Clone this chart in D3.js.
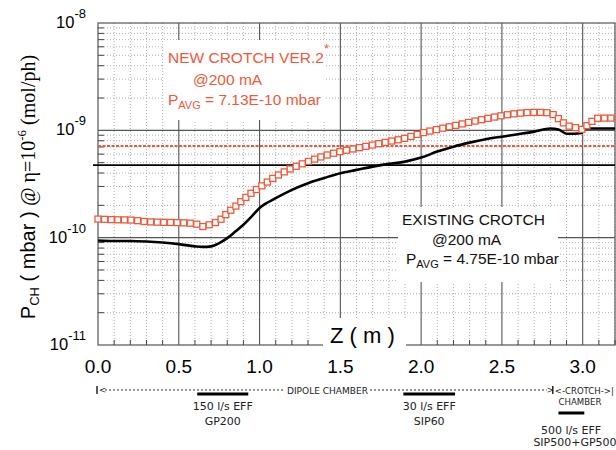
<!DOCTYPE html>
<html>
<head>
<meta charset="utf-8">
<script src="https://cdn.jsdelivr.net/npm/d3@7"></script>
<style>
  body { margin: 0; background: #fff; }
  svg { display: block; }
  .serif { font-family: "Liberation Serif", "DejaVu Serif", serif; }
</style>
</head>
<body>
<div id="chart"></div>
<script>
// values
const zExisting = [0, 0.1, 0.2, 0.3, 0.4, 0.5, 0.6, 0.65, 0.7, 0.75, 0.8, 0.85, 0.9, 0.95, 1.0,
  1.1, 1.2, 1.3, 1.4, 1.5, 1.6, 1.7, 1.8, 1.9, 2.0, 2.1, 2.2, 2.3, 2.4, 2.5, 2.6, 2.7, 2.8,
  2.85, 2.9, 2.95, 2.99, 3.02, 3.2]
const pExisting = [9.4e-11, 9.3e-11, 9.3e-11, 9.2e-11, 9.0e-11, 8.7e-11, 8.3e-11, 8.2e-11, 8.3e-11, 8.9e-11, 9.9e-11,
  1.14e-10, 1.32e-10, 1.57e-10, 1.89e-10, 2.33e-10, 2.79e-10, 3.22e-10, 3.6e-10, 3.99e-10, 4.28e-10,
  4.59e-10, 4.87e-10, 5.11e-10, 5.57e-10, 6.34e-10, 7.05e-10, 7.68e-10, 8.26e-10, 8.73e-10, 9.2e-10,
  9.73e-10, 1.04e-9, 1.02e-9, 9.3e-10, 9.3e-10, 9.45e-10, 1.04e-9, 1.04e-9]

const zNew = [0, 0.1, 0.2, 0.3, 0.4, 0.5, 0.6, 0.65, 0.7, 0.75, 0.8, 0.85, 0.9, 0.95, 1.0,
  1.1, 1.2, 1.3, 1.4, 1.5, 1.6, 1.7, 1.8, 1.9, 2.0, 2.1, 2.2, 2.3, 2.4, 2.5, 2.6, 2.7, 2.75,
  2.8, 2.83, 2.87, 2.9, 2.93, 2.97, 3.0, 3.03, 3.07, 3.1, 3.2]
const pNew = [1.49e-10, 1.47e-10, 1.46e-10, 1.41e-10, 1.39e-10, 1.38e-10, 1.35e-10, 1.27e-10, 1.34e-10, 1.44e-10,
  1.69e-10, 1.95e-10, 2.27e-10, 2.61e-10, 2.94e-10, 3.71e-10, 4.44e-10, 5.11e-10, 5.78e-10, 6.34e-10,
  6.81e-10, 7.31e-10, 7.85e-10, 8.44e-10, 9.4e-10, 1.02e-9, 1.10e-9, 1.19e-9, 1.28e-9, 1.37e-9,
  1.44e-9, 1.47e-9, 1.47e-9, 1.44e-9, 1.36e-9, 1.21e-9, 1.12e-9, 1.08e-9, 1.05e-9, 1.02e-9,
  1.12e-9, 1.25e-9, 1.30e-9, 1.30e-9]

const pAvgExisting = 4.75e-10
const pAvgNew = 7.13e-10

const xTicks = [0, 0.5, 1.0, 1.5, 2.0, 2.5, 3.0]
const yDecades = [-11, -10, -9, -8]

// pumps along the chamber (z from / to)
const pumpStart = [0.614, 1.89, 2.85]
const pumpEnd = [0.93, 2.21, 3.01]
const pumpLine1 = ['150 l/s EFF', '30 l/s EFF', '500 l/s EFF']
const pumpLine2 = ['GP200', 'SIP60', 'SIP500+GP500']
const chamberEdges = [0, 2.815, 3.2]

const red = '#ee5a3c'

const W = 616, H = 450
const margin = {top: 23, right: 1, bottom: 105, left: 98}
const width = W - margin.left - margin.right
const height = H - margin.top - margin.bottom

const svg = d3.select('#chart').append('svg')
  .attr('width', W)
  .attr('height', H)

const x = d3.scaleLinear().domain([0, 3.2]).range([margin.left, margin.left + width])
const y = d3.scaleLog().domain([1e-11, 1e-8]).range([margin.top + height, margin.top])

const x0 = margin.left, x1 = margin.left + width
const y0 = margin.top + height, y1 = margin.top

// minor grid
const minorX = d3.range(0, 3.2001, 0.1).filter(v => Math.abs(v * 2 - Math.round(v * 2)) > 1e-6)
const minorY = []
yDecades.slice(0, 3).forEach(e => {
  for (let k = 2; k <= 9; k++) minorY.push(k * Math.pow(10, e))
})

const grid = svg.append('g')
grid.selectAll('.mx').data(minorX).enter().append('line')
  .attr('x1', d => x(d)).attr('x2', d => x(d))
  .attr('y1', y0).attr('y2', y1)
  .attr('stroke', '#b0b0b0').attr('stroke-width', 1).attr('stroke-dasharray', '1,2')
grid.selectAll('.my').data(minorY).enter().append('line')
  .attr('x1', x0).attr('x2', x1)
  .attr('y1', d => y(d)).attr('y2', d => y(d))
  .attr('stroke', '#b0b0b0').attr('stroke-width', 1).attr('stroke-dasharray', '1,2')

// major grid
grid.selectAll('.Mx').data(xTicks.slice(1)).enter().append('line')
  .attr('x1', d => x(d)).attr('x2', d => x(d))
  .attr('y1', y0).attr('y2', y1)
  .attr('stroke', '#555').attr('stroke-width', 1.1)
grid.selectAll('.My').data(yDecades.slice(1, 3)).enter().append('line')
  .attr('x1', x0).attr('x2', x1)
  .attr('y1', d => y(Math.pow(10, d))).attr('y2', d => y(Math.pow(10, d)))
  .attr('stroke', '#555').attr('stroke-width', 1.1)

// frame
svg.append('rect')
  .attr('x', x0).attr('y', y1).attr('width', width).attr('height', height)
  .attr('fill', 'none').attr('stroke', '#555').attr('stroke-width', 1.2)

// inward ticks
svg.append('g').selectAll('line').data(minorX).enter().append('line')
  .attr('x1', d => x(d)).attr('x2', d => x(d))
  .attr('y1', y0).attr('y2', y0 - 5)
  .attr('stroke', '#444')
svg.append('g').selectAll('line').data(minorY).enter().append('line')
  .attr('x1', x0).attr('x2', x0 + 6)
  .attr('y1', d => y(d)).attr('y2', d => y(d))
  .attr('stroke', '#444')

// white label boxes
svg.append('rect').attr('x', 164).attr('y', 40).attr('width', 162).attr('height', 80).attr('fill', '#fff')
svg.append('rect').attr('x', 398).attr('y', 207).attr('width', 160).attr('height', 75).attr('fill', '#fff')
svg.append('rect').attr('x', 323).attr('y', 318).attr('width', 83).attr('height', 30).attr('fill', '#fff')

// average lines
svg.append('line')
  .attr('x1', x0 - 5).attr('x2', x1)
  .attr('y1', y(pAvgExisting)).attr('y2', y(pAvgExisting))
  .attr('stroke', '#000').attr('stroke-width', 1.8)
svg.append('line')
  .attr('x1', x0).attr('x2', x1)
  .attr('y1', y(pAvgNew)).attr('y2', y(pAvgNew))
  .attr('stroke', red).attr('stroke-width', 2).attr('stroke-dasharray', '3,1.5')

const line = d3.line()
  .x(d => x(d[0]))
  .y(d => y(d[1]))
  .curve(d3.curveMonotoneX)

// existing crotch curve
svg.append('path')
  .datum(d3.zip(zExisting, pExisting))
  .attr('d', line)
  .attr('fill', 'none')
  .attr('stroke', '#000')
  .attr('stroke-width', 2.6)

// new crotch: hollow squares spaced along the curve
const guide = svg.append('path')
  .datum(d3.zip(zNew, pNew))
  .attr('d', line)
  .attr('fill', 'none')
  .attr('stroke', 'none')
const total = guide.node().getTotalLength()
const marks = d3.range(0, total, 6.6).map(l => guide.node().getPointAtLength(l))
svg.append('g').selectAll('rect').data(marks).enter().append('rect')
  .attr('x', d => d.x - 3).attr('y', d => d.y - 3)
  .attr('width', 6).attr('height', 6)
  .attr('fill', '#fff')
  .attr('stroke', red)
  .attr('stroke-width', 1.3)

// tick labels
svg.append('g').selectAll('text').data(xTicks).enter().append('text')
  .attr('x', d => x(d)).attr('y', 373)
  .attr('text-anchor', 'middle')
  .attr('font-family', 'Liberation Sans, Arial, sans-serif')
  .attr('font-size', 19)
  .text(d => d.toFixed(1))

const yl = svg.append('g').selectAll('text').data(yDecades).enter().append('text')
  .attr('x', 86).attr('y', d => y(Math.pow(10, d)) + 5)
  .attr('text-anchor', 'end')
  .attr('font-family', 'Liberation Sans, Arial, sans-serif')
  .attr('font-size', 16.5)
yl.append('tspan').text('10')
yl.append('tspan').attr('dy', -10).attr('font-size', 13).text(d => '-' + Math.abs(d))

// axis titles
svg.append('text')
  .attr('x', 330).attr('y', 343)
  .attr('font-family', 'Liberation Sans, Arial, sans-serif')
  .attr('font-size', 22)
  .text('Z ( m )')

const yt = svg.append('text')
  .attr('transform', 'translate(35,187) rotate(-90)')
  .attr('text-anchor', 'middle')
  .attr('font-size', 20)
  .attr('font-family', 'Liberation Sans, Arial, sans-serif')
yt.append('tspan').text('P')
yt.append('tspan').attr('font-size', 13).attr('dy', 4).text('CH')
yt.append('tspan').attr('dy', -4).text(' ( mbar ) ')
yt.append('tspan').attr('class', 'serif').style('font-style', 'italic').text('@')
yt.append('tspan').attr('class', 'serif').text(' η=10')
yt.append('tspan').attr('class', 'serif').attr('font-size', 13).attr('dy', -9).text('-6')
yt.append('tspan').attr('class', 'serif').attr('dy', 9).text(' (mol/ph)')

// annotations inside the plot
const note = (tx, ty, color) => svg.append('text')
  .attr('x', tx).attr('y', ty)
  .attr('fill', color)
  .attr('font-family', 'Liberation Sans, Arial, sans-serif')
  .attr('font-size', 15.5)

const n1 = note(168, 63, red)
n1.append('tspan').text('NEW CROTCH VER.2')
n1.append('tspan').attr('dy', -10).attr('font-size', 13).text('*')
note(193, 85, red).text('@200 mA')
const n3 = note(168, 105, red)
n3.append('tspan').text('P')
n3.append('tspan').attr('font-size', 11).attr('dy', 4).text('AVG')
n3.append('tspan').attr('dy', -4).text(' = 7.13E-10 mbar')

note(402, 225, '#111').text('EXISTING CROTCH')
note(432, 245, '#111').text('@200 mA')
const e3 = note(406, 264, '#111')
e3.append('tspan').text('P')
e3.append('tspan').attr('font-size', 11).attr('dy', 4).text('AVG')
e3.append('tspan').attr('dy', -4).text(' = 4.75E-10 mbar')

// chamber / pump annotation below the axis
const small = 'DejaVu Sans, sans-serif'
const bot = svg.append('g').attr('fill', '#222').attr('font-family', small)
const rowY = 390

bot.append('line')
  .attr('x1', x(chamberEdges[0]) - 1).attr('x2', x(chamberEdges[0]) - 1)
  .attr('y1', rowY - 4).attr('y2', rowY + 4)
  .attr('stroke', '#222').attr('stroke-width', 1.5)
bot.append('text').attr('x', x(chamberEdges[0]) + 1).attr('y', rowY + 3).attr('font-size', 8.5).text('<')
bot.append('line')
  .attr('x1', x(chamberEdges[0]) + 7).attr('x2', 285)
  .attr('y1', rowY).attr('y2', rowY)
  .attr('stroke', '#333').attr('stroke-dasharray', '2,2')
bot.append('text').attr('x', 287).attr('y', rowY + 3.5).attr('font-size', 9)
  .attr('textLength', 81).attr('lengthAdjust', 'spacingAndGlyphs').text('DIPOLE CHAMBER')
bot.append('line')
  .attr('x1', 370).attr('x2', x(chamberEdges[1]) - 6)
  .attr('y1', rowY).attr('y2', rowY)
  .attr('stroke', '#333').attr('stroke-dasharray', '2,2')
bot.append('text').attr('x', x(chamberEdges[1]) - 6).attr('y', rowY + 3).attr('font-size', 8.5).text('>')
bot.append('line')
  .attr('x1', x(chamberEdges[1])).attr('x2', x(chamberEdges[1]))
  .attr('y1', rowY - 4).attr('y2', rowY + 4)
  .attr('stroke', '#222').attr('stroke-width', 1.5)
bot.append('text').attr('x', x(chamberEdges[1]) + 2).attr('y', rowY + 3.5).attr('font-size', 9)
  .attr('textLength', 59).attr('lengthAdjust', 'spacingAndGlyphs').text('<-CROTCH->|')
bot.append('text').attr('x', 580).attr('y', 405).attr('text-anchor', 'middle').attr('font-size', 9)
  .attr('textLength', 43).attr('lengthAdjust', 'spacingAndGlyphs').text('CHAMBER')

bot.selectAll('.pump').data(pumpStart).enter().append('line')
  .attr('x1', d => x(d)).attr('x2', (d, i) => x(pumpEnd[i]))
  .attr('y1', (d, i) => i < 2 ? 394 : 413).attr('y2', (d, i) => i < 2 ? 394 : 413)
  .attr('stroke', '#000').attr('stroke-width', 3)

const pmid = (d, i) => x((d + pumpEnd[i]) / 2)
bot.selectAll('.pl1').data(pumpStart).enter().append('text')
  .attr('x', (d, i) => i < 2 ? pmid(d, i) : 571)
  .attr('y', (d, i) => i < 2 ? 410 : 434)
  .attr('text-anchor', 'middle').attr('font-size', 11)
  .text((d, i) => pumpLine1[i])
bot.selectAll('.pl2').data(pumpStart).enter().append('text')
  .attr('x', (d, i) => i < 2 ? pmid(d, i) : 575)
  .attr('y', (d, i) => i < 2 ? 425 : 446)
  .attr('text-anchor', 'middle').attr('font-size', 11)
  .text((d, i) => pumpLine2[i])
</script>
</body>
</html>
